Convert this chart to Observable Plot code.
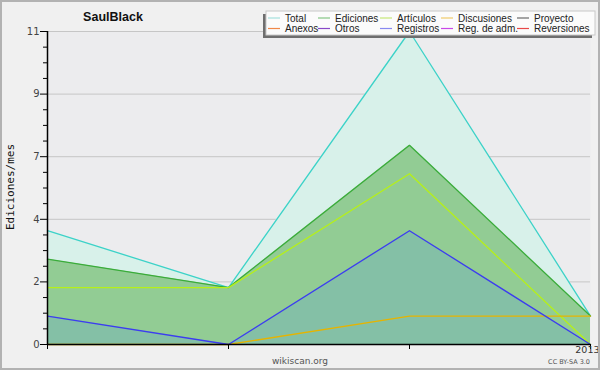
<!DOCTYPE html>
<html>
<head>
<meta charset="utf-8">
<script src="https://cdn.jsdelivr.net/npm/d3@7"></script>
<script src="https://cdn.jsdelivr.net/npm/@observablehq/plot@0.6"></script>
<style>
  html, body { margin: 0; padding: 0; background: #f0f0f0; }
  #chart { width: 600px; height: 370px; }
</style>
</head>
<body>
<div id="chart"></div>
<script>
// ---- data ----
const months = ["2012-10", "2012-11", "2012-12", "2013-01"];
const monthLabels = ["", "", "", "2013"];
const total = [4, 2, 11, 1];
const ediciones = [3, 2, 7, 1];
const articulos = [2, 2, 6, 0];
const discusiones = [0, 0, 1, 1];
const registros = [1, 0, 4, 0];

const yMajorTicks = [0, 2.2, 4.4, 6.6, 8.8, 11];
const yMinorTicks = [0.55, 1.1, 1.65, 2.75, 3.3, 3.85, 4.95, 5.5, 6.05, 7.15, 7.7, 8.25, 9.35, 9.9, 10.45];

const legendNames = ["Total", "Ediciones", "Artículos", "Discusiones", "Proyecto",
                     "Anexos", "Otros", "Registros", "Reg. de adm.", "Reversiones"];
const legendColors = ["#a6e2de", "#86c686", "#c6e878", "#f0cc6c", "#6c6c6c",
                      "#f08848", "#8848c8", "#8888f0", "#c848e8", "#e84848"];

const title = "SaulBlack";
const yLabel = "Ediciones/mes";

// ---- table ----
const rows = months.map((m, i) => ({
  m, total: total[i], ediciones: ediciones[i], articulos: articulos[i],
  discusiones: discusiones[i], registros: registros[i]
}));

const plot = Plot.plot({
  width: 600, height: 370,
  marginLeft: 47, marginRight: 10, marginTop: 31, marginBottom: 26,
  style: { background: "transparent", fontFamily: "DejaVu Sans", fontSize: "10px", color: "#444" },
  x: { type: "point", domain: months, padding: 0, axis: null },
  y: { domain: [0, 11], axis: null },
  marks: [
    Plot.frame({ fill: "#ececee", stroke: null }),
    Plot.gridY(yMajorTicks, { stroke: "#c6c6c6", strokeOpacity: 1 }),
    Plot.areaY(rows, { x: "m", y: "total", fill: "#d8f1ea", fillOpacity: 1 }),
    Plot.areaY(rows, { x: "m", y: "ediciones", fill: "#92cc94", fillOpacity: 1 }),
    Plot.areaY(rows, { x: "m", y: "registros", fill: "#84c0a6", fillOpacity: 1 }),
    Plot.lineY(rows, { x: "m", y: "total", stroke: "#3cd2c8", strokeWidth: 1.3 }),
    Plot.lineY(rows, { x: "m", y: "ediciones", stroke: "#3aac3a", strokeWidth: 1.3 }),
    Plot.lineY(rows, { x: "m", y: "articulos", stroke: "#b6f018", strokeWidth: 1.3 }),
    Plot.lineY(rows, { x: "m", y: "discusiones", stroke: "#e6b400", strokeWidth: 1.3 }),
    Plot.lineY(rows, { x: "m", y: "registros", stroke: "#3c3cf0", strokeWidth: 1.3 }),
    Plot.axisY(yMajorTicks, { tickFormat: d => String(Math.round(d)), tickSize: 7, tickPadding: 1,
      fontSize: 10, label: null, stroke: "#000", fill: "#444" }),
    Plot.axisY(yMinorTicks, { tickFormat: () => "", tickSize: 4, label: null, stroke: "#000" }),
    Plot.axisX(months, { tickFormat: () => "", tickSize: 5, label: null, stroke: "#000" }),
    Plot.text(months, { x: d => d, y: 0, text: d => monthLabels[months.indexOf(d)],
      dx: 9, dy: 2, textAnchor: "end", lineAnchor: "top", fontSize: 9.5, fill: "#333" }),
    Plot.ruleY([0], { stroke: "#000", strokeWidth: 1.5 }),
    Plot.ruleX([months[0]], { stroke: "#000", strokeWidth: 1.5 })
  ]
});

document.getElementById("chart").appendChild(plot);

const svg = d3.select(plot);

// outer border
svg.append("rect").attr("x", 1).attr("y", 1).attr("width", 598).attr("height", 368)
  .attr("fill", "none").attr("stroke", "#b2b2b2").attr("stroke-width", 2);

// title
svg.append("text").attr("x", 113).attr("y", 21).attr("text-anchor", "middle")
  .attr("font-family", "Liberation Sans").attr("font-weight", "bold").attr("font-size", 12.5)
  .attr("fill", "#111").text(title);

// y label
svg.append("text").attr("transform", "translate(14,187) rotate(-90)").attr("text-anchor", "middle")
  .attr("font-family", "DejaVu Sans Mono").attr("font-size", 11).attr("fill", "#111").text(yLabel);

// footer
svg.append("text").attr("x", 300).attr("y", 364).attr("text-anchor", "middle")
  .attr("font-family", "DejaVu Sans").attr("font-size", 9).attr("fill", "#555").text("wikiscan.org");
svg.append("text").attr("x", 590).attr("y", 364).attr("text-anchor", "end")
  .attr("font-family", "DejaVu Sans").attr("font-size", 6.5).attr("fill", "#555").text("CC BY-SA 3.0");

// legend
const lg = svg.append("g");
lg.append("rect").attr("x", 263).attr("y", 14).attr("width", 329).attr("height", 24).attr("fill", "#6e6e6e");
lg.append("rect").attr("x", 266).attr("y", 11).attr("width", 329).attr("height", 24)
  .attr("fill", "#fbfbfb").attr("stroke", "#c8c8c8").attr("stroke-width", 1);
const colX = [268, 318, 380, 441, 517];
legendNames.forEach((name, i) => {
  const col = i % 5, row = Math.floor(i / 5);
  const x = colX[col], y = 18 + row * 10.5;
  lg.append("line").attr("x1", x).attr("x2", x + 12).attr("y1", y).attr("y2", y)
    .attr("stroke", legendColors[i]).attr("stroke-width", 1.2);
  lg.append("text").attr("x", x + 17).attr("y", y + 3.5).attr("text-anchor", "start")
    .attr("font-family", "Liberation Sans").attr("font-size", 10).attr("fill", "#222").text(name);
});
</script>
</body>
</html>
